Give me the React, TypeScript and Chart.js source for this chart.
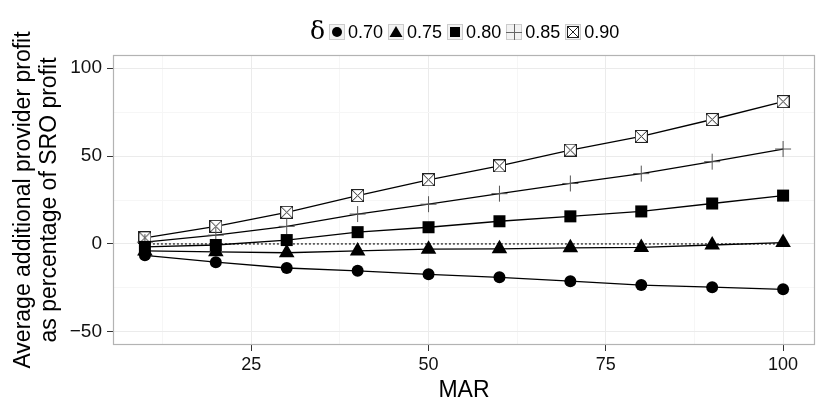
import React, { useEffect, useRef } from 'react';
import { Chart, registerables } from 'chart.js';

Chart.register(...registerables);

const MAR = [10, 20, 30, 40, 50, 60, 70, 80, 90, 100];
const delta070 = [-6.5, -10.4, -13.7, -15.3, -17.3, -19.0, -21.2, -23.4, -24.6, -25.8];
const delta075 = [-4.0, -4.5, -5.0, -4.0, -3.0, -2.8, -2.2, -2.0, -0.6, 0.8];
const delta080 = [-1.7, -0.6, 2.2, 6.7, 9.5, 12.9, 15.7, 18.5, 23.0, 27.5];
const delta085 = [1.0, 5.0, 10.0, 17.0, 22.6, 28.6, 34.4, 40.0, 46.8, 54.0];
const delta090 = [3.5, 10.0, 18.0, 27.5, 36.5, 44.4, 53.4, 61.2, 70.8, 81.0];
const seriesLabels = ['0.70', '0.75', '0.80', '0.85', '0.90'];
const legendTitle = 'δ';

const xTicks = [12.5, 25, 37.5, 50, 62.5, 75, 87.5, 100];
const xLabelTicks = [25, 50, 75, 100];
const yTicks = [-50, -25, 0, 25, 50, 75, 100];
const yLabelTicks = [-50, 0, 50, 100];
const zeroLineX = [10, 100];
const zeroLineY = [0, 0];

const FONT = '"Liberation Sans", Arial, Helvetica, sans-serif';

function makeBoxX(size: number): HTMLCanvasElement {
  const c = document.createElement('canvas');
  c.width = size;
  c.height = size;
  const g = c.getContext('2d')!;
  g.fillStyle = '#ffffff';
  g.fillRect(0.5, 0.5, size - 1, size - 1);
  g.strokeStyle = '#222';
  g.lineWidth = 1;
  g.strokeRect(0.5, 0.5, size - 1, size - 1);
  g.beginPath();
  g.moveTo(1, 1);
  g.lineTo(size - 1, size - 1);
  g.moveTo(size - 1, 1);
  g.lineTo(1, size - 1);
  g.stroke();
  return c;
}

function drawMarker(ctx: CanvasRenderingContext2D, kind: number, x: number, y: number, boxX: HTMLCanvasElement) {
  ctx.save();
  ctx.fillStyle = '#000';
  ctx.strokeStyle = '#000';
  if (kind === 0) {
    ctx.beginPath();
    ctx.arc(x, y, 5, 0, Math.PI * 2);
    ctx.fill();
  } else if (kind === 1) {
    ctx.beginPath();
    ctx.moveTo(x, y - 6);
    ctx.lineTo(x + 6.5, y + 5);
    ctx.lineTo(x - 6.5, y + 5);
    ctx.closePath();
    ctx.fill();
  } else if (kind === 2) {
    ctx.fillRect(x - 5, y - 5, 10, 10);
  } else if (kind === 3) {
    ctx.strokeStyle = '#666';
    ctx.lineWidth = 1;
    ctx.beginPath();
    ctx.moveTo(x - 8, y + 0.5);
    ctx.lineTo(x + 8, y + 0.5);
    ctx.moveTo(x + 0.5, y - 8);
    ctx.lineTo(x + 0.5, y + 8);
    ctx.stroke();
  } else {
    ctx.drawImage(boxX, Math.round(x - boxX.width / 2), Math.round(y - boxX.height / 2));
  }
  ctx.restore();
}

export default function App() {
  const ref = useRef<HTMLCanvasElement | null>(null);

  useEffect(() => {
    if (!ref.current) return;
    const boxX = makeBoxX(13);
    const boxXLegend = makeBoxX(12);

    const pts = (ys: number[]) => MAR.map((x, i) => ({ x, y: ys[i] }));

    const panelPlugin = {
      id: 'panelBorder',
      afterDraw(chart: any) {
        const { ctx, chartArea } = chart;
        ctx.save();
        ctx.strokeStyle = '#b3b3b3';
        ctx.lineWidth = 1.2;
        ctx.strokeRect(
          Math.round(chartArea.left) + 0.5,
          Math.round(chartArea.top) + 0.5,
          Math.round(chartArea.right - chartArea.left) - 1,
          Math.round(chartArea.bottom - chartArea.top) - 1
        );
        ctx.restore();
      },
    };

    const legendPlugin = {
      id: 'ggLegend',
      afterDraw(chart: any) {
        const ctx: CanvasRenderingContext2D = chart.ctx;
        ctx.save();
        const cy = 32;
        const box = 16;
        const gapBoxText = 3;
        const gapItem = 5;
        const gapTitle = 4;
        ctx.font = `18px ${FONT}`;
        const textWs = seriesLabels.map((s) => ctx.measureText(s).width);
        ctx.font = `25px "DejaVu Serif", "Liberation Serif", serif`;
        const titleW = ctx.measureText(legendTitle).width;
        let total = titleW + gapTitle;
        textWs.forEach((w, i) => {
          total += box + gapBoxText + w + (i < textWs.length - 1 ? gapItem : 0);
        });
        let x = Math.round(465 - total / 2);
        ctx.fillStyle = '#000';
        ctx.textBaseline = 'middle';
        ctx.textAlign = 'left';
        ctx.fillText(legendTitle, x, cy);
        x += titleW + gapTitle;
        seriesLabels.forEach((s, i) => {
          const bx = Math.round(x);
          const by = Math.round(cy - box / 2);
          ctx.fillStyle = '#f2f2f2';
          ctx.fillRect(bx, by, box, box);
          ctx.strokeStyle = '#cccccc';
          ctx.lineWidth = 1;
          ctx.strokeRect(bx + 0.5, by + 0.5, box - 1, box - 1);
          drawMarker(ctx, i, bx + box / 2, by + box / 2, boxXLegend);
          x += box + gapBoxText;
          ctx.font = `18px ${FONT}`;
          ctx.fillStyle = '#000';
          ctx.fillText(s, x, cy + 1);
          x += textWs[i] + gapItem;
        });
        ctx.restore();
      },
    };

    const lineBase = {
      borderColor: '#000',
      borderWidth: 1.3,
      tension: 0,
      fill: false,
      pointBackgroundColor: '#000',
      pointBorderColor: '#000',
      pointBorderWidth: 0,
    };

    const chart = new Chart(ref.current, {
      type: 'line',
      data: {
        datasets: [
          { ...lineBase, label: seriesLabels[0], data: pts(delta070), pointStyle: 'circle', pointRadius: 6 },
          { ...lineBase, label: seriesLabels[1], data: pts(delta075), pointStyle: 'triangle', pointRadius: 9 },
          { ...lineBase, label: seriesLabels[2], data: pts(delta080), pointStyle: 'rect', pointRadius: 8.5 },
          {
            ...lineBase,
            label: seriesLabels[3],
            data: pts(delta085),
            pointStyle: 'cross',
            pointRadius: 8,
            pointBorderColor: '#555',
            pointBorderWidth: 1,
          },
          { ...lineBase, label: seriesLabels[4], data: pts(delta090), pointStyle: boxX as any, pointRadius: 7 },
          {
            label: 'zero',
            data: zeroLineX.map((x, i) => ({ x, y: zeroLineY[i] })),
            borderColor: '#000',
            borderWidth: 1.1,
            borderDash: [2, 2],
            pointRadius: 0,
            fill: false,
            order: 10,
          } as any,
        ],
      },
      options: {
        animation: false,
        responsive: true,
        maintainAspectRatio: false,
        layout: { padding: { top: 55, right: 15, left: 0, bottom: 0 } },
        plugins: {
          legend: { display: false },
          tooltip: { enabled: false },
        },
        scales: {
          x: {
            type: 'linear',
            min: 5.5,
            max: 104.5,
            afterBuildTicks: (s: any) => {
              s.ticks = xTicks.map((v) => ({ value: v }));
            },
            afterFit: (s: any) => {
              s.height = 70;
            },
            grid: {
              color: (c: any) => (xLabelTicks.includes(c.tick?.value) ? '#ebebeb' : '#f6f6f6'),
              lineWidth: 1,
              drawTicks: true,
              tickLength: 6,
              tickColor: (c: any) => (xLabelTicks.includes(c.tick?.value) ? '#333' : 'rgba(0,0,0,0)'),
            },
            border: { display: false },
            ticks: {
              autoSkip: false,
              maxRotation: 0,
              padding: 3,
              color: '#111',
              font: { family: FONT, size: 18 },
              callback: (v: any) => (xLabelTicks.includes(v) ? String(v) : ''),
            },
            title: {
              display: true,
              text: 'MAR',
              color: '#000',
              font: { family: FONT, size: 23 },
              padding: { top: 0, bottom: 11 },
            },
          },
          y: {
            type: 'linear',
            min: -57.5,
            max: 107.5,
            afterBuildTicks: (s: any) => {
              s.ticks = yTicks.map((v) => ({ value: v }));
            },
            afterFit: (s: any) => {
              s.width = 113;
            },
            grid: {
              color: (c: any) => (yLabelTicks.includes(c.tick?.value) ? '#ebebeb' : '#f6f6f6'),
              lineWidth: 1,
              drawTicks: true,
              tickLength: 6,
              tickColor: (c: any) => (yLabelTicks.includes(c.tick?.value) ? '#333' : 'rgba(0,0,0,0)'),
            },
            border: { display: false },
            ticks: {
              autoSkip: false,
              padding: 5,
              color: '#111',
              font: { family: FONT, size: 19 },
              callback: (v: any) =>
                yLabelTicks.includes(v) ? (v < 0 ? '\u2212' + Math.abs(v) : String(v)) : '',
            },
            title: {
              display: true,
              text: ['Average additional provider profit', 'as percentage of SRO profit'],
              color: '#000',
              font: { family: FONT, size: 23, lineHeight: 1.15 },
              padding: { top: 10, bottom: 0 },
            },
          },
        },
      },
      plugins: [panelPlugin, legendPlugin],
    });

    return () => chart.destroy();
  }, []);

  return (
    <div style={{ position: 'fixed', left: 0, top: 0, width: 830, height: 415, background: '#fff' }}>
      <canvas ref={ref} />
    </div>
  );
}
